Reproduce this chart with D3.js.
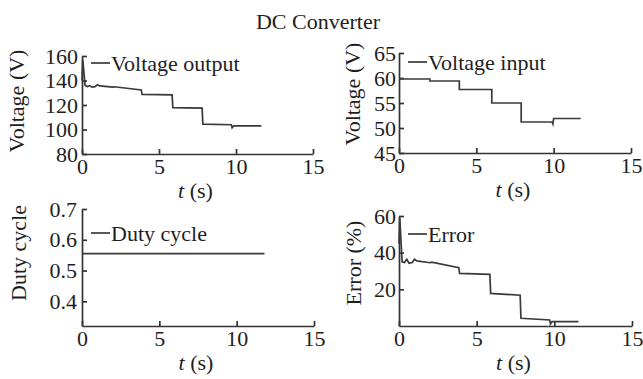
<!DOCTYPE html>
<html>
<head>
<meta charset="utf-8">
<script src="https://cdn.jsdelivr.net/npm/d3@7"></script>
<style>
    html, body { margin: 0; padding: 0; background: #fff; }
    svg text { font-family: "Liberation Serif", "Times New Roman", serif; fill: #1e1e1e; }
</style>
</head>
<body>
<svg id="chart" width="643" height="379"></svg>
<script>
// data
const timeOut = [0, 0.05, 0.2, 0.35, 0.5, 0.65, 0.85, 1.0, 1.15, 2.0, 2.1, 3.85, 3.9, 5.85, 5.9, 7.8, 7.85, 9.7, 9.75, 9.85, 11.65];
const voltageOut = [140, 157, 136, 135, 135.8, 134.6, 135, 136.6, 135.6, 134.6, 134.9, 132.3, 128.6, 128.2, 117.8, 117.4, 104.4, 103.9, 101.4, 102.9, 102.9];

const timeIn = [0, 2.0, 2.0, 3.9, 3.9, 6.0, 6.0, 7.9, 7.9, 9.9, 9.95, 10.0, 11.75];
const voltageIn = [59.8, 59.8, 59.4, 59.4, 57.7, 57.7, 55.0, 55.0, 51.2, 51.2, 50.8, 51.9, 51.9];

const timeDuty = [0, 11.8];
const dutyCycle = [0.555, 0.555];

const timeErr = [0, 0.05, 0.2, 0.35, 0.5, 0.65, 0.85, 1.0, 1.15, 2.0, 2.1, 3.85, 3.9, 5.85, 5.9, 7.8, 7.85, 9.7, 9.75, 9.85, 11.55];
const errorPct = [45, 59, 35, 34.6, 36.4, 34.2, 34.6, 36.4, 35.5, 34.5, 34.8, 31.8, 28.7, 28.2, 17.8, 16.8, 4.2, 3.3, 1.1, 2.4, 2.4];

const xTicks = [0, 5, 10, 15];
const outTicks = [80, 100, 120, 140, 160];
const inTicks = [45, 50, 55, 60, 65];
const dutyTicks = [0.4, 0.5, 0.6, 0.7];
const errTicks = [20, 40, 60];

const fontSize = 22;
const ink = '#333';

const panels = [
    { t: timeOut, v: voltageOut, name: 'Voltage output', yLabel: 'Voltage (V)', yDomain: [80, 160], yTicks: outTicks, fmt: d3.format('d'),
      x: [82, 313], y: [154, 56], legendY: 63, yLabelX: 24, yLabelY: 101, pad: 4 },
    { t: timeIn, v: voltageIn, name: 'Voltage input', yLabel: 'Voltage (V)', yDomain: [45, 65], yTicks: inTicks, fmt: d3.format('d'),
      x: [399, 631], y: [153, 53], legendY: 62, yLabelX: 360, yLabelY: 94, pad: 3 },
    { t: timeDuty, v: dutyCycle, name: 'Duty cycle', yLabel: 'Duty cycle', yDomain: [0.32, 0.7], yTicks: dutyTicks, fmt: d3.format('.1f'),
      x: [82, 314], y: [326, 209], legendY: 233, yLabelX: 26, yLabelY: 253, pad: 5 },
    { t: timeErr, v: errorPct, name: 'Error', yLabel: 'Error (%)', yDomain: [0, 60], yTicks: errTicks, fmt: d3.format('d'),
      x: [399, 632], y: [326, 216], legendY: 234, yLabelX: 361, yLabelY: 263, pad: 3 }
];

const svg = d3.select('#chart');

svg.append('text')
    .attr('x', 318)
    .attr('y', 29)
    .style('font-size', '22px')
    .style('text-anchor', 'middle')
    .text('DC Converter');

panels.forEach(p => {
    const xScale = d3.scaleLinear().domain([0, 15]).range(p.x);
    const yScale = d3.scaleLinear().domain(p.yDomain).range(p.y);
    const g = svg.append('g');

    // x axis
    const xAxis = g.append('g')
        .attr('transform', `translate(0,${p.y[0]})`)
        .call(d3.axisBottom(xScale).tickValues(xTicks).tickSize(-5).tickSizeOuter(0).tickPadding(4));

    // y axis
    const yAxis = g.append('g')
        .attr('transform', `translate(${p.x[0]},0)`)
        .call(d3.axisLeft(yScale).tickValues(p.yTicks).tickFormat(p.fmt).tickSize(-5).tickSizeOuter(0).tickPadding(p.pad));

    [xAxis, yAxis].forEach(ax => {
        ax.selectAll('path, line').attr('stroke', ink).attr('stroke-width', 1.7);
        ax.selectAll('text')
            .attr('fill', '#1e1e1e')
            .style('font-size', fontSize + 'px')
            .style('font-family', '"Liberation Serif", serif');
    });

    // the data line
    const pts = p.t.map((t, i) => [t, p.v[i]]);
    g.append('path')
        .attr('fill', 'none')
        .attr('stroke', '#3a3a3a')
        .attr('stroke-width', 1.7)
        .attr('d', d3.line().x(d => xScale(d[0])).y(d => yScale(d[1]))(pts));

    // legend
    g.append('line')
        .attr('x1', p.x[0] + 9)
        .attr('x2', p.x[0] + 28)
        .attr('y1', p.legendY)
        .attr('y2', p.legendY)
        .attr('stroke', '#3a3a3a')
        .attr('stroke-width', 1.7);

    g.append('text')
        .attr('x', p.x[0] + 29)
        .attr('y', p.legendY)
        .attr('dy', '0.35em')
        .style('font-size', fontSize + 'px')
        .text(p.name);

    // x label
    const xl = g.append('text')
        .attr('x', (p.x[0] + p.x[1]) / 2 - 2)
        .attr('y', p.y[0] + 44)
        .style('font-size', fontSize + 'px')
        .style('text-anchor', 'middle');
    xl.append('tspan').style('font-style', 'italic').text('t');
    xl.append('tspan').text(' (s)');

    // y label
    g.append('text')
        .attr('transform', `translate(${p.yLabelX},${p.yLabelY}) rotate(-90)`)
        .style('font-size', fontSize + 'px')
        .style('text-anchor', 'middle')
        .text(p.yLabel);
});
</script>
</body>
</html>
